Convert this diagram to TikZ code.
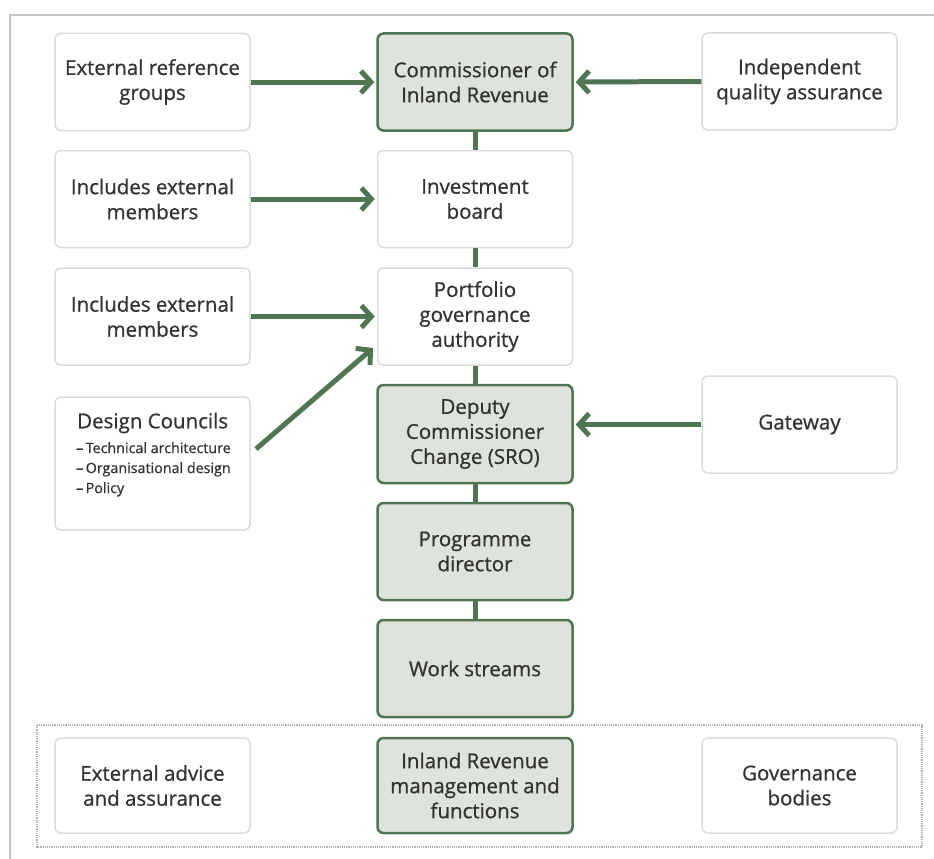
\documentclass[tikz,border=0pt]{standalone}
\usepackage{fontspec}
\setmainfont{Open Sans}[FakeBold=0.8]
\usetikzlibrary{arrows.meta}
\definecolor{gline}{HTML}{4F7553}
\definecolor{gfill}{HTML}{DEE3DB}
\definecolor{wborder}{HTML}{D9DDD9}
\definecolor{txt}{HTML}{333333}
\definecolor{frame}{HTML}{C4C4C4}
\begin{document}
\begin{tikzpicture}[x=1pt,y=-1pt,
  whitebox/.style={draw=wborder, line width=1.5pt, rounded corners=6pt, fill=white,
    minimum width=195pt, minimum height=97pt, align=center,
    font=\fontsize{20.5}{25}\selectfont, text=txt, inner sep=0pt},
  greenbox/.style={whitebox, draw=gline, fill=gfill, line width=2.5pt},
  conn/.style={draw=gline, line width=5pt},
  arr/.style={draw=gline, line width=5pt, -{Straight Barb[length=10pt,width=22pt]}}]
\useasboundingbox (0,0) rectangle (934,859);
% outer frame
\draw[frame, line width=1.5pt] (10,870) -- (10,15) -- (945,15);
% dotted legend frame
\draw[densely dotted, draw=gray!60, line width=1.2pt] (37,725) rectangle (922,847);

% left column
\node[whitebox] (extref) at (152.5,82) {External reference\\groups};
\node[whitebox] (inc1) at (152.5,199) {Includes external\\members};
\node[whitebox] (inc2) at (152.5,316.5) {Includes external\\members};
\node[whitebox, minimum height=133pt] (design) at (152.5,463.5) {};
\node[anchor=west, text=txt, font=\fontsize{20.5}{25}\selectfont, inner sep=0pt] (dtitle) at (77,423) {Design Councils};
\node[anchor=north west, align=left, text=txt, font=\fontsize{14.3}{20}\selectfont, inner sep=0pt] (dlist) at (76,442)
  {–\,Technical architecture\\–\,Organisational design\\–\,Policy};

% centre column
\node[greenbox] (comm) at (475,82) {Commissioner of\\Inland Revenue};
\node[whitebox] (inv) at (475,199) {Investment\\board};
\node[whitebox] (port) at (475,316.5) {Portfolio\\governance\\authority};
\node[greenbox, minimum height=98pt] (dep) at (475,434) {Deputy\\Commissioner\\Change (SRO)};
\node[greenbox] (prog) at (475,551.5) {Programme\\director};
\node[greenbox] (work) at (475,668.5) {Work streams};

% right column
\node[whitebox] (iqa) at (799.5,81.5) {Independent\\quality assurance};
\node[whitebox] (gate) at (799.5,424.5) {Gateway};

% legend row
\node[whitebox, minimum height=95pt] (extadv) at (152.5,785.5) {External advice\\and assurance};
\node[greenbox, minimum height=95pt] (irm) at (475,785.5) {Inland Revenue\\management and\\functions};
\node[whitebox, minimum height=95pt] (gov) at (799.5,785.5) {Governance\\bodies};

% vertical connectors
\draw[conn] (comm.south) -- (inv.north);
\draw[conn] (inv.south) -- (port.north);
\draw[conn] (port.south) -- (dep.north);
\draw[conn] (dep.south) -- (prog.north);
\draw[conn] (prog.south) -- (work.north);

% arrows
\draw[arr] (extref.east) -- ([xshift=-2pt]comm.west);
\draw[arr] (iqa.west) -- ([xshift=2pt]comm.east);
\draw[arr] (inc1.east) -- ([xshift=-2pt]inv.west);
\draw[arr] (inc2.east) -- ([xshift=-2pt]port.west);
\coordinate (dstart) at (256,449);
\coordinate (dend) at (373,348);
\draw[arr] (dstart) -- (dend);
\draw[arr] (gate.west) -- ([xshift=2pt]gate.west -| dep.east);
\end{tikzpicture}
\end{document}
